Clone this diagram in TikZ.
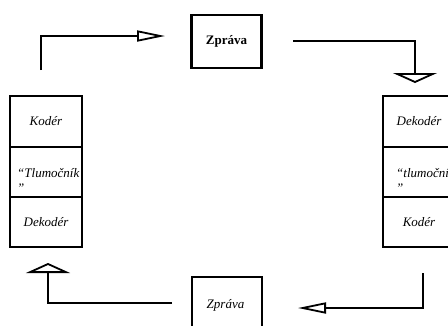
\documentclass[tikz,border=0pt]{standalone}
\usepackage{fontspec}
\setmainfont{Liberation Serif}
\usetikzlibrary{arrows.meta}
\begin{document}
\begin{tikzpicture}[x=1pt,y=-1pt,
  cell/.style={draw, line width=2.3pt, rectangle, inner sep=0pt, minimum width=72pt, font=\fontsize{13}{15}\selectfont\itshape},
  msg/.style={draw, line width=2.3pt, rectangle, inner sep=0pt, minimum width=70pt},
  conn/.style={line width=1.8pt},
  harrow/.style={conn, -{Triangle[open, length=28pt, width=11pt, line width=1.8pt, fill=white]}},
  varrow/.style={conn, -{Triangle[open, length=10pt, width=44pt, line width=1.8pt, fill=white]}},
  txt/.style={inner sep=0pt, font=\fontsize{13}{15}\selectfont\itshape, align=left}]
\useasboundingbox (0,0) rectangle (448,325);
% left stack
\node[cell, minimum height=51pt] (l1) at (46,121.5) {Kodér};
\node[cell, minimum height=50pt] (l2) at (46,172) {};
\node[cell, minimum height=50pt] (l3) at (46,222) {Dekodér};
\node[txt, anchor=north west] (l2t) at (17,168) {“Tlumočník\\”};
% right stack
\node[cell, minimum height=51pt] (r1) at (419,121.5) {Dekodér};
\node[cell, minimum height=50pt] (r2) at (419,172) {};
\node[cell, minimum height=50pt] (r3) at (419,222) {Kodér};
\node[txt, anchor=north west] (r2t) at (396,168) {“tlumočník\\”};
% messages
\node[msg, minimum height=53pt, font=\fontsize{13}{15}\selectfont\bfseries] (m1) at (226.5,41.5) {Zpráva};
\node[msg, minimum height=56pt, text depth=0pt] (m2) at (227,305) {};
\node[txt] (m2t) at (225.5,305) {Zpráva};
% connectors
\coordinate (a1s) at (41,70);
\coordinate (a1e) at (165,36);
\coordinate (a2s) at (293,41);
\coordinate (a2e) at (415,83);
\coordinate (a3s) at (423,273);
\coordinate (a3e) at (298,308);
\coordinate (a4s) at (172,303);
\coordinate (a4e) at (48,263);
\draw[harrow] (a1s) |- (a1e);
\draw[varrow] (a2s) -| (a2e);
\draw[harrow] (a3s) |- (a3e);
\draw[varrow] (a4s) -| (a4e);
\end{tikzpicture}
\end{document}
